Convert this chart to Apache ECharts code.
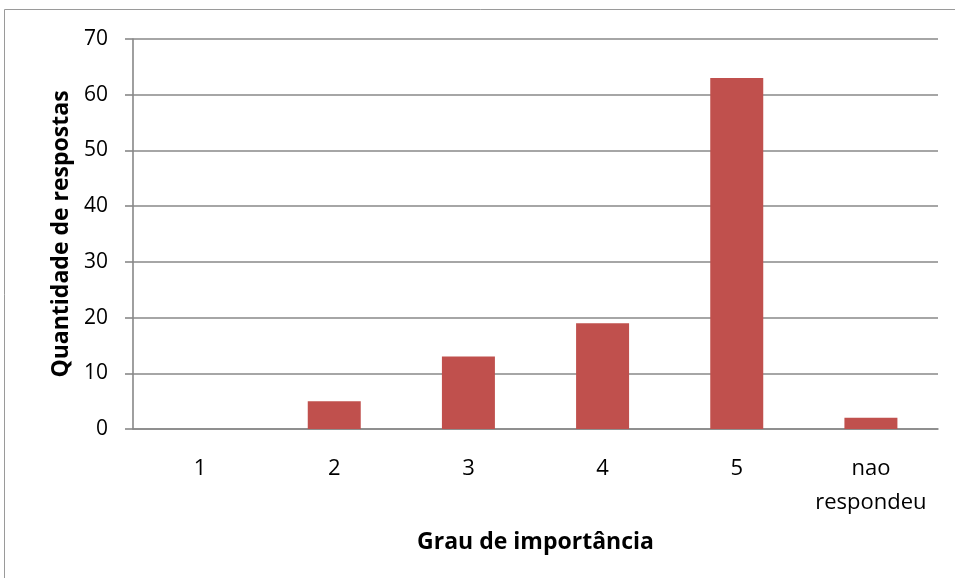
<!DOCTYPE html>
<html>
<head>
<meta charset="utf-8">
<script src="https://cdn.jsdelivr.net/npm/echarts@6/dist/echarts.min.js"></script>
<style>
  html, body { margin: 0; padding: 0; background: #fff; }
  #chart { width: 955px; height: 578px; }
</style>
</head>
<body>
<div id="chart"></div>
<script>
// Survey answers per importance grade
const categories = ['1', '2', '3', '4', '5', 'nao\nrespondeu'];
const respostas = [0, 5, 13, 19, 63, 2];
const yMin = 0;
const yMax = 70;
const yStep = 10;

const FONT = '"Open Sans", sans-serif';
const chart = echarts.init(document.getElementById('chart'), null, { renderer: 'canvas' });

chart.setOption({
  animation: false,
  backgroundColor: '#ffffff',
  graphic: [{
    type: 'rect',
    shape: { x: 4.5, y: 9.5, width: 1000, height: 600 },
    style: { fill: 'none', stroke: '#9a9a9a', lineWidth: 1 },
    silent: true
  }],
  grid: { left: 133, right: 17, top: 39, bottom: 149, containLabel: false },
  xAxis: {
    type: 'category',
    data: categories,
    name: 'Grau de importância',
    nameLocation: 'middle',
    nameGap: 102,
    nameTextStyle: { fontFamily: FONT, fontSize: 23, fontWeight: 'bold', color: '#000' },
    axisLine: { lineStyle: { color: '#888888', width: 1.6 } },
    axisTick: { show: false },
    axisLabel: { fontFamily: FONT, fontSize: 22, color: '#000', margin: 23, lineHeight: 34, interval: 0 }
  },
  yAxis: {
    type: 'value',
    min: yMin,
    max: yMax,
    interval: yStep,
    name: 'Quantidade de respostas',
    nameLocation: 'middle',
    nameGap: 58,
    nameTextStyle: { fontFamily: FONT, fontSize: 23, fontWeight: 'bold', color: '#000' },
    axisLine: { show: true, lineStyle: { color: '#888888', width: 1.6 } },
    axisTick: { show: true, inside: false, length: 8, lineStyle: { color: '#888888', width: 1.6 } },
    axisLabel: { fontFamily: FONT, fontSize: 21, color: '#000', margin: 25 },
    splitLine: { show: true, lineStyle: { color: '#888888', width: 1.6 } }
  },
  series: [{
    type: 'bar',
    data: respostas,
    barWidth: '39.5%',
    itemStyle: { color: '#c0504d' }
  }]
});
</script>
</body>
</html>
